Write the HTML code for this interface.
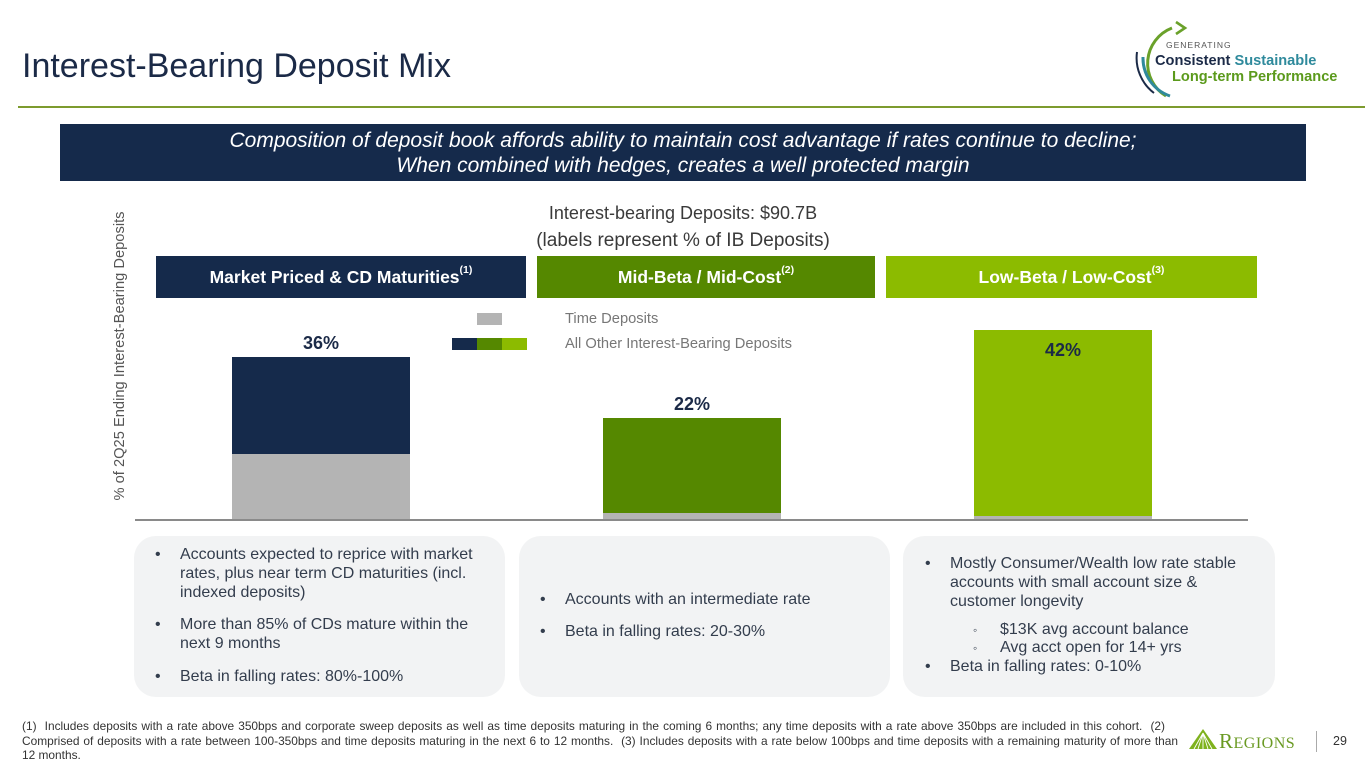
<!DOCTYPE html>
<html><head><meta charset="utf-8">
<style>
*{margin:0;padding:0;box-sizing:border-box}
body{width:1365px;height:768px;background:#fff;position:relative;overflow:hidden;font-family:"Liberation Sans",sans-serif}
.a{position:absolute;white-space:nowrap}
.t{font-size:16px;color:#333d4d;line-height:20px}
.hdr{position:absolute;top:256px;height:42px;color:#fff;font-weight:bold;font-size:17.5px;line-height:42px;text-align:center}
.hdr sup{font-size:10.5px;vertical-align:top;line-height:28px}
.box{position:absolute;top:536px;height:161px;background:#f2f3f4;border-radius:22px}
.fn{position:absolute;left:22px;font-size:11.9px;color:#333;line-height:14px;white-space:nowrap;text-align:justify;text-align-last:justify}
</style></head><body>

<div class="a" style="left:22px;top:44px;font-size:34px;color:#1b2a47;line-height:44px">Interest-Bearing Deposit Mix</div>
<div class="a" style="left:18px;top:106px;width:1347px;height:2px;background:#7d9b2e"></div>

<!-- top-right logo -->
<svg class="a" style="left:1120px;top:15px" width="245" height="95" viewBox="1120 15 245 95">
 <path d="M1172 28 A38 38 0 0 0 1166 96" fill="none" stroke="#6aa12a" stroke-width="3"/>
 <path d="M1176 22 L1185 28 L1176 34" fill="none" stroke="#6aa12a" stroke-width="2.6"/>
 <path d="M1143 57 A40 40 0 0 0 1170 96" fill="none" stroke="#2f8a9c" stroke-width="3"/>
 <path d="M1137 52 A44 44 0 0 0 1154 93" fill="none" stroke="#1b2a47" stroke-width="2"/>
 <text x="1166" y="48" font-family="Liberation Sans" font-size="8.5" letter-spacing="1" fill="#555">GENERATING</text>
 <text x="1155" y="65" font-family="Liberation Sans" font-size="14.6" font-weight="bold" fill="#1b2a47">Consistent <tspan fill="#2f8a9c">Sustainable</tspan></text>
 <text x="1172" y="81" font-family="Liberation Sans" font-size="14.6" font-weight="bold" fill="#5b9a1c">Long-term Performance</text>
</svg>

<!-- banner -->
<div class="a" style="left:60px;top:124px;width:1246px;height:57px;background:#152a4b"></div>
<div class="a" style="left:60px;top:129px;width:1246px;text-align:center;color:#fff;font-style:italic;font-size:21px;line-height:24.5px">Composition of deposit book affords ability to maintain cost advantage if rates continue to decline;<br>When combined with hedges, creates a well protected margin</div>

<div class="a" style="left:383px;top:201px;width:600px;text-align:center;font-size:18px;color:#3a3a3a;line-height:24px">Interest-bearing Deposits: $90.7B</div>
<div class="a" style="left:383px;top:229px;width:600px;text-align:center;font-size:19px;color:#3a3a3a;line-height:24px">(labels represent % of IB Deposits)</div>

<!-- y label -->
<div class="a" style="left:120px;top:356px;transform:translate(-50%,-50%) rotate(-90deg);font-size:14.7px;color:#555">% of 2Q25 Ending Interest-Bearing Deposits</div>

<!-- headers -->
<div class="hdr" style="left:156px;width:370px;background:#152a4b">Market Priced &amp; CD Maturities<sup>(1)</sup></div>
<div class="hdr" style="left:537px;width:338px;background:#558800">Mid-Beta / Mid-Cost<sup>(2)</sup></div>
<div class="hdr" style="left:886px;width:371px;background:#8cbb00">Low-Beta / Low-Cost<sup>(3)</sup></div>

<!-- legend -->
<div class="a" style="left:477px;top:313px;width:25px;height:12px;background:#b4b4b4"></div>
<div class="a" style="left:452px;top:338px;width:25px;height:12px;background:#152a4b"></div>
<div class="a" style="left:477px;top:338px;width:25px;height:12px;background:#558800"></div>
<div class="a" style="left:502px;top:338px;width:25px;height:12px;background:#8cbb00"></div>
<div class="a" style="left:565px;top:310px;font-size:14.7px;color:#777;line-height:18px">Time Deposits</div>
<div class="a" style="left:565px;top:335px;font-size:14.7px;color:#777;line-height:18px">All Other Interest-Bearing Deposits</div>

<!-- bars -->
<div class="a" style="left:232px;top:357px;width:178px;height:97px;background:#152a4b"></div>
<div class="a" style="left:232px;top:454px;width:178px;height:66px;background:#b4b4b4"></div>
<div class="a" style="left:232px;top:332px;width:178px;text-align:center;font-weight:bold;font-size:18px;color:#1b2a47;line-height:22px">36%</div>

<div class="a" style="left:603px;top:418px;width:178px;height:95px;background:#558800"></div>
<div class="a" style="left:603px;top:513px;width:178px;height:7px;background:#b4b4b4"></div>
<div class="a" style="left:603px;top:393px;width:178px;text-align:center;font-weight:bold;font-size:18px;color:#1b2a47;line-height:22px">22%</div>

<div class="a" style="left:974px;top:330px;width:178px;height:186px;background:#8cbb00"></div>
<div class="a" style="left:974px;top:516px;width:178px;height:4px;background:#b4b4b4"></div>
<div class="a" style="left:974px;top:339px;width:178px;text-align:center;font-weight:bold;font-size:18px;color:#1b2a47;line-height:22px">42%</div>

<div class="a" style="left:135px;top:519px;width:1113px;height:2px;background:#8a8a8a"></div>

<!-- boxes -->
<div class="box" style="left:134px;width:371px"></div>
<div class="box" style="left:519px;width:371px"></div>
<div class="box" style="left:903px;width:372px"></div>

<div class="a t" style="left:155px;top:545px">•</div>
<div class="a t" style="left:180px;top:545px">Accounts expected to reprice with market</div>
<div class="a t" style="left:180px;top:564px">rates, plus near term CD maturities (incl.</div>
<div class="a t" style="left:180px;top:583px">indexed deposits)</div>
<div class="a t" style="left:155px;top:615px">•</div>
<div class="a t" style="left:180px;top:615px">More than 85% of CDs mature within the</div>
<div class="a t" style="left:180px;top:634px">next 9 months</div>
<div class="a t" style="left:155px;top:667px">•</div>
<div class="a t" style="left:180px;top:667px">Beta in falling rates: 80%-100%</div>

<div class="a t" style="left:540px;top:590px">•</div>
<div class="a t" style="left:565px;top:590px">Accounts with an intermediate rate</div>
<div class="a t" style="left:540px;top:622px">•</div>
<div class="a t" style="left:565px;top:622px">Beta in falling rates: 20-30%</div>

<div class="a t" style="left:925px;top:554px">•</div>
<div class="a t" style="left:950px;top:554px">Mostly Consumer/Wealth low rate stable</div>
<div class="a t" style="left:950px;top:573px">accounts with small account size &amp;</div>
<div class="a t" style="left:950px;top:592px">customer longevity</div>
<div class="a t" style="left:973px;top:620px;font-size:12px">◦</div>
<div class="a t" style="left:1000px;top:620px">$13K avg account balance</div>
<div class="a t" style="left:973px;top:638px;font-size:12px">◦</div>
<div class="a t" style="left:1000px;top:638px">Avg acct open for 14+ yrs</div>
<div class="a t" style="left:925px;top:657px">•</div>
<div class="a t" style="left:950px;top:657px">Beta in falling rates: 0-10%</div>

<!-- footnotes -->
<div class="fn" style="top:719px;width:1143px">(1)&nbsp; Includes deposits with a rate above 350bps and corporate sweep deposits as well as time deposits maturing in the coming 6 months; any time deposits with a rate above 350bps are included in this cohort.&nbsp; (2)</div>
<div class="fn" style="top:733.5px;width:1156px">Comprised of deposits with a rate between 100-350bps and time deposits maturing in the next 6 to 12 months.&nbsp; (3) Includes deposits with a rate below 100bps and time deposits with a remaining maturity of more than</div>
<div class="fn" style="top:748px;text-align:left;text-align-last:left">12 months.</div>

<!-- Regions logo -->
<svg class="a" style="left:1188px;top:728px" width="30" height="22" viewBox="0 0 30 22">
 <polygon points="15,1 29,21 1,21" fill="#7fb21e"/>
 <path d="M15 5 L10 21 M15 5 L15 21 M15 5 L20 21 M15 5 L6 21 M15 5 L24 21" stroke="#fff" stroke-width="0.9"/>
</svg>
<div class="a" style="left:1219px;top:730px;font-family:'Liberation Serif',serif;color:#6a9a23;font-size:21px;line-height:22px;letter-spacing:0.5px">R<span style="font-size:16px">EGIONS</span></div>
<div class="a" style="left:1316px;top:731px;width:1px;height:21px;background:#aaa"></div>
<div class="a" style="left:1333px;top:733px;font-size:12.5px;color:#333;line-height:16px">29</div>

</body></html>
